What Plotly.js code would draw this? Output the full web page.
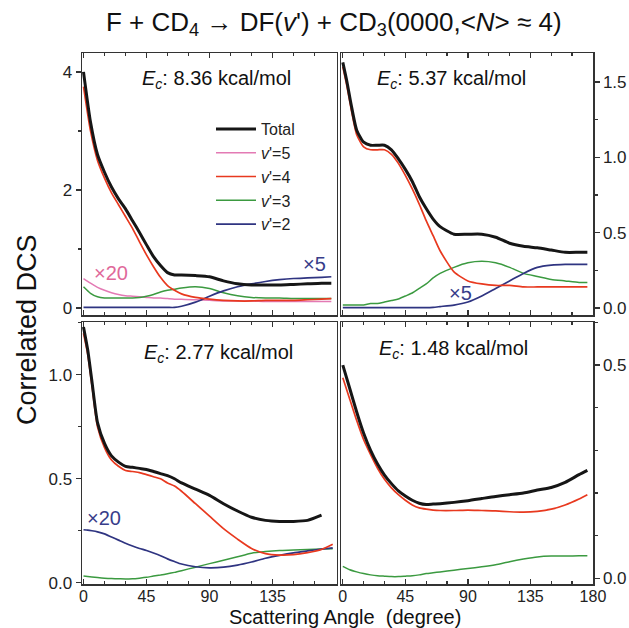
<!DOCTYPE html>
<html>
<head>
<meta charset="utf-8">
<script src="https://cdn.plot.ly/plotly-3.0.1.min.js"></script>
<style>html,body{margin:0;padding:0;background:#fff;}#chart{width:629px;height:628px;}</style>
</head>
<body>
<div id="chart"></div>
<script>
// ---------- data ----------
// Panel A: Ec = 8.36 kcal/mol
const angA = [0,5,10,15,20,25,30,35,40,45,50,55,60,65,70,80,90,100,110,120,130,140,150,160,170,177];
const totA = [4.0,3.15,2.6,2.3,2.05,1.85,1.68,1.48,1.28,1.07,0.87,0.72,0.6,0.56,0.56,0.55,0.53,0.46,0.41,0.39,0.39,0.39,0.40,0.41,0.42,0.42];
const v5A  = [0.5,0.42,0.35,0.3,0.26,0.23,0.21,0.2,0.19,0.18,0.17,0.17,0.16,0.15,0.15,0.14,0.13,0.12,0.12,0.12,0.11,0.11,0.11,0.11,0.11,0.11];
const v4A  = [3.75,3.0,2.5,2.2,1.95,1.75,1.55,1.35,1.12,0.9,0.7,0.52,0.38,0.3,0.24,0.18,0.15,0.13,0.12,0.12,0.13,0.13,0.13,0.14,0.15,0.16];
const v3A  = [0.36,0.25,0.19,0.17,0.17,0.17,0.17,0.17,0.18,0.2,0.23,0.27,0.3,0.32,0.34,0.36,0.33,0.26,0.21,0.18,0.17,0.17,0.16,0.16,0.16,0.16];
const v2A  = [0.01,0.01,0.01,0.01,0.01,0.01,0.01,0.01,0.01,0.01,0.01,0.01,0.01,0.01,0.03,0.1,0.2,0.29,0.36,0.41,0.45,0.48,0.5,0.51,0.52,0.53];

// Panel B: Ec = 5.37 kcal/mol
const angB = [0,3,6,10,15,20,25,30,35,40,45,50,55,60,65,70,80,90,100,110,120,130,140,150,160,170,176];
const totB = [1.63,1.5,1.35,1.18,1.1,1.08,1.08,1.08,1.05,0.99,0.92,0.84,0.74,0.66,0.59,0.54,0.49,0.49,0.49,0.47,0.43,0.41,0.40,0.385,0.37,0.37,0.37];
const v4B  = [1.6,1.47,1.32,1.15,1.07,1.05,1.05,1.05,1.02,0.96,0.88,0.79,0.69,0.58,0.48,0.38,0.24,0.18,0.16,0.15,0.15,0.14,0.14,0.14,0.14,0.14,0.14];
const v3B  = [0.02,0.02,0.02,0.02,0.02,0.03,0.03,0.04,0.05,0.06,0.08,0.1,0.13,0.16,0.2,0.23,0.27,0.3,0.31,0.3,0.27,0.23,0.21,0.19,0.18,0.17,0.17];
const v2B  = [0.003,0.003,0.003,0.003,0.003,0.003,0.003,0.003,0.003,0.003,0.003,0.003,0.003,0.003,0.005,0.01,0.02,0.04,0.08,0.13,0.18,0.23,0.27,0.285,0.29,0.29,0.29];

// Panel C: Ec = 2.77 kcal/mol
const angC = [0,3,6,10,15,20,25,30,35,40,45,50,55,60,65,70,80,90,100,110,120,130,140,150,160,170,178];
const totC = [1.23,1.12,0.97,0.77,0.67,0.61,0.58,0.56,0.555,0.55,0.545,0.535,0.525,0.515,0.5,0.48,0.45,0.42,0.38,0.345,0.315,0.3,0.295,0.295,0.3,0.325,null];
const v4C  = [1.2,1.1,0.95,0.75,0.65,0.59,0.56,0.54,0.535,0.53,0.52,0.51,0.5,0.48,0.465,0.44,0.38,0.32,0.26,0.21,0.165,0.14,0.133,0.135,0.145,0.16,0.185];
const v3C  = [0.032,0.03,0.028,0.025,0.022,0.02,0.019,0.018,0.019,0.022,0.026,0.032,0.037,0.043,0.05,0.058,0.075,0.092,0.108,0.125,0.142,0.15,0.155,0.157,0.16,0.162,0.163];
const v2C  = [0.255,0.253,0.25,0.245,0.235,0.22,0.205,0.19,0.177,0.165,0.155,0.143,0.13,0.115,0.102,0.09,0.077,0.072,0.075,0.085,0.1,0.118,0.132,0.144,0.153,0.162,0.168];

// Panel D: Ec = 1.48 kcal/mol
const angD = [0,5,10,15,20,25,30,35,40,45,50,55,60,65,70,80,90,100,110,120,130,140,150,160,170,176];
const totD = [0.5,0.445,0.39,0.34,0.3,0.268,0.242,0.222,0.205,0.193,0.183,0.176,0.173,0.174,0.175,0.178,0.182,0.187,0.192,0.196,0.2,0.207,0.213,0.225,0.243,0.253];
const v4D  = [0.47,0.42,0.37,0.325,0.29,0.258,0.232,0.212,0.196,0.183,0.172,0.165,0.162,0.16,0.159,0.159,0.16,0.159,0.158,0.156,0.155,0.157,0.162,0.172,0.186,0.196];
const v3D  = [0.028,0.02,0.015,0.011,0.008,0.006,0.005,0.004,0.004,0.005,0.006,0.008,0.011,0.013,0.015,0.019,0.023,0.027,0.032,0.039,0.045,0.05,0.052,0.052,0.053,0.053];

const panelLabels = ['8.36','5.37','2.77','1.48'];
const seriesNames = {tot:'Total', v5:"<i>v</i>'=5", v4:"<i>v</i>'=4", v3:"<i>v</i>'=3", v2:"<i>v</i>'=2"};

// ---------- styles ----------
const W = 629, H = 628;
const FONT = '"Liberation Sans", Arial, Helvetica, sans-serif';
const COL = {tot:'#161616', v5:'#e37ab4', v4:'#e8391f', v3:'#3b9a40', v2:'#2f3481'};
const LW  = {tot:3, v5:1.5, v4:1.7, v3:1.5, v2:1.7};
const RANK = {tot:1, v5:2, v4:3, v3:4, v2:5};
const px = x => x / W;
const py = y => 1 - y / H;

const traces = [];
function addLine(key, x, y, ax, showLegend) {
  traces.push({
    type:'scatter', mode:'lines', x:x, y:y,
    xaxis:'x'+ax, yaxis:'y'+ax,
    name: seriesNames[key], legendrank: RANK[key],
    showlegend: !!showLegend,
    line:{color:COL[key], width:LW[key], shape:'spline', smoothing:0.6},
    connectgaps:false, hoverinfo:'skip'
  });
}
// panel A (draw order: minor channels first, total on top)
addLine('v5', angA, v5A, '', true);
addLine('v3', angA, v3A, '', true);
addLine('v2', angA, v2A, '', true);
addLine('v4', angA, v4A, '', true);
addLine('tot', angA, totA, '', true);
// panel B
addLine('v3', angB, v3B, '2');
addLine('v2', angB, v2B, '2');
addLine('v4', angB, v4B, '2');
addLine('tot', angB, totB, '2');
// panel C
addLine('v3', angC, v3C, '3');
addLine('v2', angC, v2C, '3');
addLine('v4', angC, v4C, '3');
addLine('tot', angC, totC, '3');
// panel D
addLine('v3', angD, v3D, '4');
addLine('v4', angD, v4D, '4');
addLine('tot', angD, totD, '4');

// ---------- axes ----------
const AXC = '#333';
function xAxis(dom, rng, anchor, labels, tickvals) {
  return {
    domain: dom, range: rng, anchor: anchor,
    showline:true, linecolor:AXC, linewidth:1.5, mirror:'ticks',
    ticks:'inside', ticklen:5, tickwidth:1.3, tickcolor:AXC,
    tickmode:'array', tickvals: tickvals, ticklabelstandoff:-3,
    minor:{tickmode:'linear', tick0:0, dtick:15, ticks:'inside', ticklen:3, tickwidth:1.2, tickcolor:AXC},
    showgrid:false, zeroline:false, showticklabels: labels,
    tickfont:{family:FONT, size:16, color:'#222'}
  };
}
function yAxis(dom, rng, anchor, side, dtick, minorDtick, fmt) {
  return {
    domain: dom, range: rng, anchor: anchor, side: side,
    showline:true, linecolor:AXC, linewidth:1.5, mirror:true,
    ticks:'outside', ticklen:5, tickwidth:1.3, tickcolor:AXC,
    tick0:0, dtick:dtick, tickformat: fmt,
    minor:{tick0:0, dtick:minorDtick, ticks:'outside', ticklen:3, tickwidth:1.2, tickcolor:AXC},
    showgrid:false, zeroline:false,
    tickfont:{family:FONT, size:17, color:'#222'}
  };
}
const xL = [px(82), px(336.5)], xR = [px(341), px(593)];
const yT = [py(315), py(53)],   yB = [py(584), py(322)];
const rngXL = [-1.07, 180.7], rngXR = [-1.3, 180.05];

function note(text, x, y, size, color, extra) {
  return Object.assign({text:text, x:px(x), y:py(y), xref:'paper', yref:'paper',
    xanchor:'center', yanchor:'middle', showarrow:false,
    font:{family:FONT, size:size, color:color}}, extra || {});
}

const layout = {
  width: W, height: H,
  margin:{l:0, r:0, t:0, b:0},
  paper_bgcolor:'#fff', plot_bgcolor:'#fff',
  font:{family:FONT, color:'#222'},
  showlegend:true,
  legend:{x:px(211), y:py(112), xanchor:'left', yanchor:'top', bgcolor:'rgba(0,0,0,0)',
          font:{family:FONT, size:16, color:'#222'}, itemwidth:40, traceorder:'normal', tracegroupgap:0},
  xaxis:  xAxis(xL, rngXL, 'y',  false, [0,45,90,135,180]),
  xaxis2: xAxis(xR, rngXR, 'y2', false, [0,45,90,135,180]),
  xaxis3: xAxis(xL, rngXL, 'y3', true,  [0,45,90,135]),
  xaxis4: xAxis(xR, rngXR, 'y4', true,  [0,45,90,135,180]),
  yaxis:  yAxis(yT, [-0.118, 4.32], 'x',  'left',  2,   1,    'd'),
  yaxis2: yAxis(yT, [-0.046, 1.692],'x2', 'right', 0.5, 0.25, '.1f'),
  yaxis3: yAxis(yB, [-0.006, 1.254],'x3', 'left',  0.5, 0.25, '.1f'),
  yaxis4: yAxis(yB, [-0.0134, 0.601],'x4','right', 0.5, 0.1,  '.1f'),
  annotations: [
    note("F + CD<sub>4</sub> → DF(<i>v</i>') + CD<sub>3</sub>(0000,&lt;<i>N</i>&gt; ≈ 4)", 334, 24, 26, '#111'),
    note('Correlated DCS', 27, 330, 27, '#111', {textangle:-90}),
    note('Scattering Angle  (degree)', 345, 617, 20, '#111'),
    note('<i>E</i><sub><i>c</i></sub>: '+panelLabels[0]+' kcal/mol', 216, 79, 20, '#111'),
    note('<i>E</i><sub><i>c</i></sub>: '+panelLabels[1]+' kcal/mol', 451, 79, 20, '#111'),
    note('<i>E</i><sub><i>c</i></sub>: '+panelLabels[2]+' kcal/mol', 218, 353, 20, '#111'),
    note('<i>E</i><sub><i>c</i></sub>: '+panelLabels[3]+' kcal/mol', 453, 349, 20, '#111'),
    note('×20', 111, 273, 20, '#e0689a'),
    note('×5',  314, 264, 20, '#383d8a'),
    note('×5',  460, 293, 20, '#383d8a'),
    note('×20', 104, 518, 20, '#383d8a')
  ]
};

Plotly.newPlot('chart', traces, layout, {displayModeBar:false, staticPlot:true});
</script>
</body>
</html>
